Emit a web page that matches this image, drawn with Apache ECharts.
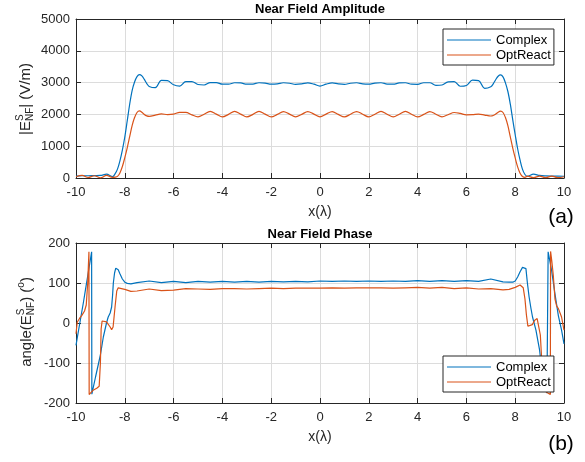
<!DOCTYPE html>
<html>
<head>
<meta charset="utf-8">
<script src="https://cdn.jsdelivr.net/npm/echarts@6/dist/echarts.min.js"></script>
<style>
  html, body { margin: 0; padding: 0; background: #fff; }
  #chart { width: 585px; height: 462px; }
</style>
</head>
<body>
<div id="chart"></div>
<script>
// x positions (lambda) shared by both amplitude curves
const ampX = [-10, -9.75, -9.5, -9.25, -9, -8.75, -8.5, -8.4, -8.3, -8.2, -8.1, -8, -7.9, -7.8, -7.7, -7.6, -7.5, -7.4, -7.3, -7.2, -7.1, -7,
  -6.75, -6.5, -6.25, -6, -5.75, -5.5, -5.25, -5, -4.75, -4.5, -4.25, -4, -3.75, -3.5, -3.25, -3, -2.75, -2.5, -2.25, -2, -1.75, -1.5, -1.25, -1, -0.75, -0.5, -0.25,
  0,
  0.25, 0.5, 0.75, 1, 1.25, 1.5, 1.75, 2, 2.25, 2.5, 2.75, 3, 3.25, 3.5, 3.75, 4, 4.25, 4.5, 4.75, 5, 5.25, 5.5, 5.75, 6, 6.25, 6.5, 6.75,
  7, 7.1, 7.2, 7.3, 7.4, 7.5, 7.6, 7.7, 7.8, 7.9, 8, 8.1, 8.2, 8.3, 8.4, 8.5, 8.75, 9, 9.25, 9.5, 9.75, 10];

const ampComplex = [60, 70, 70, 75, 80, 120, 45, 130, 280, 540, 880, 1290, 1800, 2320, 2750, 3020, 3190, 3250, 3210, 3100, 2970, 2880,
  2840, 3070, 3060, 2930, 2890, 3030, 3030, 2940, 2925, 3000, 3000, 2950, 2950, 2995, 2990, 2950, 2955, 2995, 2985, 2950, 2960, 2995, 2980, 2945, 2960, 2990, 2950,
  2890,
  2950, 2990, 2960, 2945, 2980, 2995, 2960, 2950, 2985, 2995, 2955, 2950, 2990, 2995, 2950, 2945, 2995, 2995, 2910, 2925, 3025, 3030, 2885, 2910, 3075, 3060, 2820,
  2870, 2960, 3090, 3200, 3240, 3180, 2990, 2720, 2320, 1830, 1360, 920, 560, 270, 110, 50, 120, 80, 65, 60, 60, 55];

const ampOptReact = [40, 80, 15, 70, 5, 80, 20, 25, 50, 160, 360, 640, 950, 1300, 1650, 1900, 2060, 2110, 2070, 2000, 1955, 1940,
  1975, 2015, 1995, 2010, 2065, 2065, 1985, 1925, 2005, 2095, 2010, 1920, 2000, 2095, 2010, 1920, 2000, 2095, 2010, 1920, 2000, 2090, 2010, 1925, 2000, 2090, 2010,
  1925,
  2010, 2090, 2000, 1920, 2005, 2090, 2005, 1920, 2005, 2095, 2005, 1920, 2005, 2095, 2005, 1920, 2000, 2090, 2005, 1925, 1990, 2060, 2030, 1985, 1990, 2010, 1980,
  1950, 1965, 2010, 2070, 2100, 2060, 1900, 1650, 1290, 940, 630, 350, 150, 45, 20, 60, 10, 60, 10, 60, 10, 40];

// phase (degrees)
const phaseComplexX = [-10, -9.9, -9.8, -9.7, -9.6, -9.5, -9.42, -9.36, -9.35, -9.2, -9, -8.88, -8.75, -8.68, -8.6, -8.54, -8.5, -8.47, -8.42, -8.37, -8.32, -8.27, -8.2, -8.1, -8, -7.9, -7.75,
  -7.5, -7, -6.5, -6, -5.5, -5, -4.5, -4, -3.5, -3, -2.5, -2, -1.5, -1, -0.5, 0, 0.5, 1, 1.5, 2, 2.5, 3, 3.5, 4, 4.5, 5, 5.5, 6, 6.5, 7, 7.5,
  7.75, 7.9, 8, 8.1, 8.2, 8.3, 8.38, 8.44, 8.5, 8.57, 8.65, 8.71, 8.85, 9, 9.14, 9.3, 9.34, 9.35, 9.49, 9.63, 9.77, 9.9, 10];
const phaseComplex = [-56, -20, 15, 50, 88, 125, 155, 178, -178, -135, -80, -35, 0, 15, 25, 40, 70, 100, 125, 137, 138, 133, 123, 110, 102, 99, 98,
  101, 105, 101, 104, 101, 104, 102, 104, 102, 104, 102, 104, 103, 104, 103, 105, 104, 105, 104, 105, 104, 105, 104, 106, 104, 106, 104, 106, 104, 110, 103,
  102, 102, 105, 115, 128, 139, 142, 136, 100, 65, 35, 15, -18, -68, -143, -175, -178, 178, 132, 73, 18, -18, -52];

const phaseOptX = [-10, -9.95, -9.85, -9.76, -9.65, -9.58, -9.52, -9.47, -9.46, -9.3, -9.15, -9.05, -9, -8.97, -8.93, -8.87, -8.75, -8.6, -8.54, -8.48, -8.4, -8.33, -8.27, -8.2, -8, -7.75,
  -7.5, -7, -6.5, -6, -5.5, -5, -4.5, -4, -3.5, -3, -2.5, -2, -1.5, -1, -0.5, 0, 0.5, 1, 1.5, 2, 2.5, 3, 3.5, 4, 4.5, 5, 5.5, 6, 6.5, 7, 7.5,
  7.75, 8, 8.2, 8.27, 8.33, 8.4, 8.46, 8.52, 8.6, 8.7, 8.8, 8.9, 8.97, 9.03, 9.08, 9.14, 9.3, 9.44, 9.45, 9.5, 9.56, 9.63, 9.7, 9.77, 9.9, 10];
const phaseOpt = [-27, 2, 12, 19, 30, 45, 100, 178, -179, -168, -163, -158, -100, -15, 5, 8, 3, -10, -17, -10, 40, 80, 88, 86, 84, 79,
  80, 85, 81, 82, 86, 85, 84, 86, 86, 85, 86, 87, 86, 87, 87, 87, 88, 87, 88, 88, 88, 87, 88, 89, 87, 89, 86, 88, 85, 86, 83,
  84, 89, 95, 96, 88, 60, 20, -8, -10, -4, 7, 11, 7, -30, -85, -165, -174, -179, 179, 155, 120, 60, 42, 36, 15, -18];

const xTicks = [-10, 10, 2];
const ampTicks = [0, 5000, 1000];
const phaseTicks = [-200, 200, 100];
const seriesNames = ['Complex', 'OptReact'];

const FONT = '"Liberation Sans", Arial, Helvetica, sans-serif';
const AX = '#262626';
const BLUE = '#0072BD';
const ORANGE = '#D95319';

const zip = (xs, ys) => xs.map((x, i) => [x, ys[i]]);

const measureCtx = document.createElement('canvas').getContext('2d');
function textWidth(s, size) {
  measureCtx.font = size + 'px ' + FONT;
  return measureCtx.measureText(s).width;
}

// vertical label built from pieces; hold = next piece starts at same place (stacked sup/sub)
function vLabel(parts, cx, cy) {
  const kids = [];
  let x = 0, held = 0;
  parts.forEach(p => {
    const w = textWidth(p.t, p.s);
    kids.push({
      type: 'text', x: x, y: p.dy || 0,
      style: { text: p.t, font: p.s + 'px ' + FONT, fill: AX, align: 'left', verticalAlign: 'middle' }
    });
    if (p.hold) { held = Math.max(held, w); }
    else { x += Math.max(w, held); held = 0; }
  });
  return { type: 'group', x: cx, y: cy + x / 2, rotation: Math.PI / 2, children: kids };
}

function hText(t, x, y, size, weight, color) {
  return {
    type: 'text', x: x, y: y,
    style: { text: t, font: (weight || 'normal') + ' ' + size + 'px ' + FONT, fill: color || AX, align: 'center', verticalAlign: 'middle' }
  };
}

function xAxes(gi) {
  const base = {
    gridIndex: gi, type: 'value', min: xTicks[0], max: xTicks[1], interval: xTicks[2],
    axisLine: { show: true, onZero: false, lineStyle: { color: AX, width: 1 } },
    axisTick: { show: true, inside: true, length: 5, lineStyle: { color: AX } }
  };
  return [
    Object.assign({}, base, {
      position: 'bottom',
      axisLabel: { color: AX, fontSize: 13, fontFamily: FONT, margin: 8, formatter: v => String(v) },
      splitLine: { show: true, lineStyle: { color: '#dcdcdc', width: 1 } }
    }),
    Object.assign({}, base, { position: 'top', axisLabel: { show: false }, splitLine: { show: false } })
  ];
}

function yAxes(gi, ticks) {
  const base = {
    gridIndex: gi, type: 'value', min: ticks[0], max: ticks[1], interval: ticks[2],
    axisLine: { show: true, onZero: false, lineStyle: { color: AX, width: 1 } },
    axisTick: { show: true, inside: true, length: 5, lineStyle: { color: AX } }
  };
  return [
    Object.assign({}, base, {
      position: 'left',
      axisLabel: { color: AX, fontSize: 13, fontFamily: FONT, margin: 6, formatter: v => String(v) },
      splitLine: { show: true, lineStyle: { color: '#dcdcdc', width: 1 } }
    }),
    Object.assign({}, base, { position: 'right', axisLabel: { show: false }, splitLine: { show: false } })
  ];
}

function line(name, gi, data, color, smooth) {
  return {
    type: 'line', name: name, xAxisIndex: gi * 2, yAxisIndex: gi * 2,
    data: data, symbol: 'none', smooth: smooth, color: color,
    lineStyle: { color: color, width: 1.2 }
  };
}

function legendAt(left, top) {
  return {
    data: seriesNames, orient: 'vertical', left: left, top: top,
    backgroundColor: '#fff', borderColor: AX, borderWidth: 1,
    padding: [4, 3, 3, 4], itemWidth: 44, itemHeight: 1.2, itemGap: 1, icon: 'rect',
    textStyle: { fontSize: 13, fontFamily: FONT, color: '#000', lineHeight: 14 }
  };
}

const chart = echarts.init(document.getElementById('chart'), null, { renderer: 'canvas' });
chart.setOption({
  animation: false,
  backgroundColor: '#fff',
  grid: [
    { left: 76, top: 19, width: 488, height: 159 },
    { left: 76, top: 243, width: 488, height: 160 }
  ],
  xAxis: xAxes(0).concat(xAxes(1)),
  yAxis: yAxes(0, ampTicks).concat(yAxes(1, phaseTicks)),
  legend: [legendAt(443, 29), legendAt(443, 356)],
  series: [
    line(seriesNames[0], 0, zip(ampX, ampComplex), BLUE, 0.35),
    line(seriesNames[1], 0, zip(ampX, ampOptReact), ORANGE, 0.35),
    line(seriesNames[0], 1, zip(phaseComplexX, phaseComplex), BLUE, false),
    line(seriesNames[1], 1, zip(phaseOptX, phaseOpt), ORANGE, false)
  ],
  graphic: [
    hText('Near Field Amplitude', 320, 9, 13, 'bold', '#000'),
    hText('Near Field Phase', 320, 234, 13, 'bold', '#000'),
    hText('x(\u03bb)', 320, 212, 14),
    hText('x(\u03bb)', 320, 437, 14),
    hText('(a)', 561, 217, 21, 'normal', '#000'),
    hText('(b)', 561, 444, 21, 'normal', '#000'),
    vLabel([
      { t: '|E', s: 15 },
      { t: 'S', s: 10, dy: -6, hold: true },
      { t: 'NF', s: 10, dy: 4 },
      { t: '| (V/m)', s: 15 }
    ], 26, 99),
    vLabel([
      { t: 'angle(E', s: 15 },
      { t: 'S', s: 10, dy: -6, hold: true },
      { t: 'NF', s: 10, dy: 4 },
      { t: ') (', s: 15 },
      { t: 'o', s: 10, dy: -6 },
      { t: ')', s: 15 }
    ], 27, 322)
  ]
});
</script>
</body>
</html>
